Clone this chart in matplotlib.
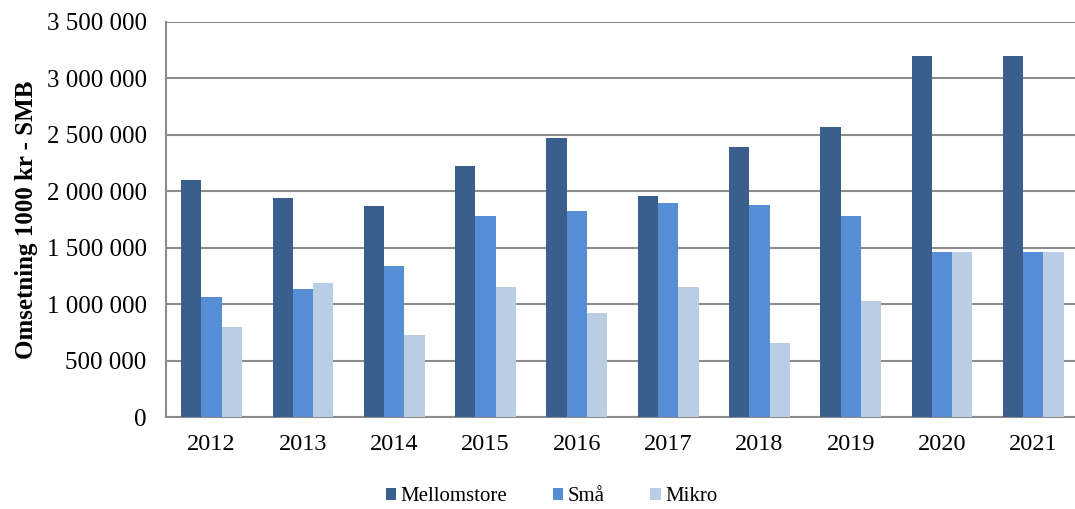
import numpy as np
import matplotlib
matplotlib.use("Agg")
import matplotlib.pyplot as plt
from matplotlib.ticker import FuncFormatter

years = ["2012", "2013", "2014", "2015", "2016", "2017", "2018", "2019", "2020", "2021"]
mellomstore = [2100000, 1943000, 1870000, 2224000, 2472000, 1961000, 2390000, 2567000, 3196000, 3196000]
smaa = [1061000, 1134000, 1335000, 1784000, 1823000, 1899000, 1876000, 1781000, 1462000, 1462000]
mikro = [795000, 1185000, 729000, 1155000, 919000, 1155000, 653000, 1025000, 1462000, 1462000]

plt.rcParams['font.family'] = ['Liberation Serif', 'DejaVu Serif']

fig = plt.figure(figsize=(10.75, 5.09), dpi=100)
ax = fig.add_axes([0.1544, 0.1807, 0.8493, 0.7761])

x = np.arange(len(years))
w = 0.222
ax.bar(x - w, mellomstore, w, color='#3A5F8E', label='Mellomstore', zorder=3)
ax.bar(x, smaa, w, color='#558ED5', label='Små', zorder=3)
ax.bar(x + w, mikro, w, color='#B9CDE5', label='Mikro', zorder=3)

ax.set_xlim(-0.5, len(years) - 0.5)
ax.set_ylim(0, 3500000)
ax.set_yticks(np.arange(0, 3500001, 500000))
ax.yaxis.set_major_formatter(FuncFormatter(lambda v, p: f"{int(v):,}".replace(",", " ")))
ax.set_xticks(x)
ax.set_xticklabels(years)
ax.grid(axis='y', color='#8c8c8c', linewidth=1.5, zorder=0)
for s in ['top', 'right']:
    ax.spines[s].set_visible(False)
for s in ['left', 'bottom']:
    ax.spines[s].set_color('#8c8c8c')
    ax.spines[s].set_linewidth(1.5)
ax.tick_params(axis='y', labelsize=18, length=0, pad=14)
ax.tick_params(axis='x', labelsize=17.5, length=0, pad=12)
ax.set_ylabel('Omsetning 1000 kr - SMB', fontsize=18, fontweight='bold', labelpad=6)

fig.legend(loc='center', bbox_to_anchor=(0.513, 0.024), ncol=3, frameon=False,
           fontsize=15, handlelength=0.5, handleheight=0.5, handletextpad=0.2,
           columnspacing=2.2, borderpad=0)

fig.savefig('out.png', dpi=100)
